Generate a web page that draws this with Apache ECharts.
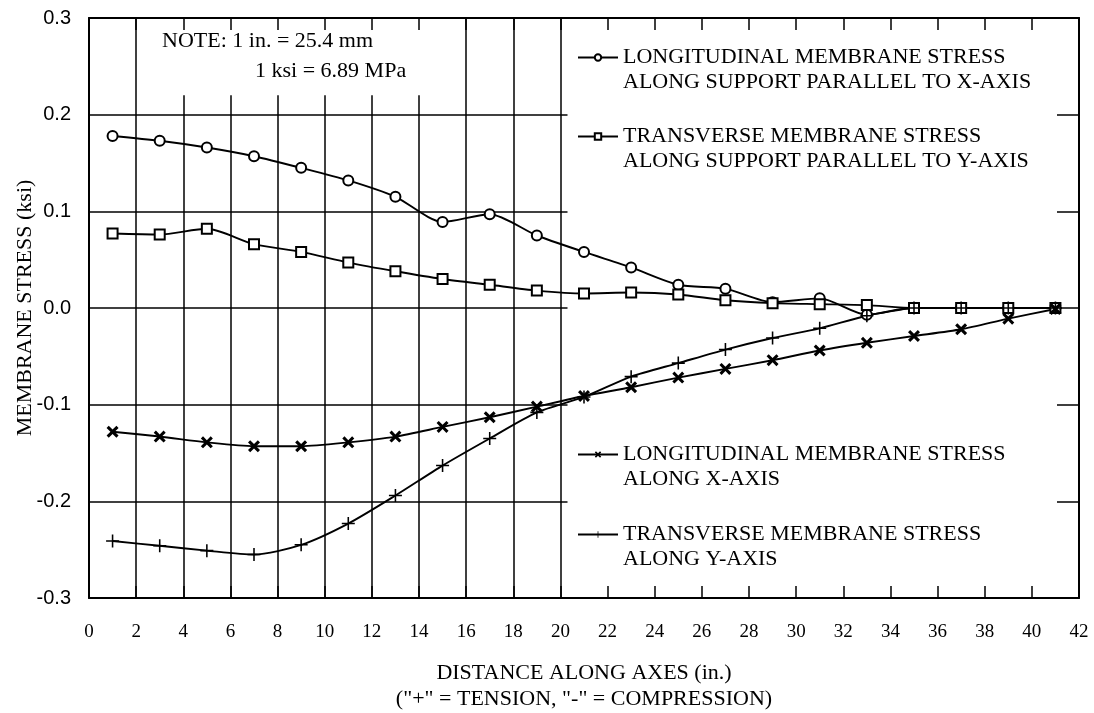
<!DOCTYPE html>
<html>
<head>
<meta charset="utf-8">
<script src="https://cdn.jsdelivr.net/npm/echarts@6/dist/echarts.min.js"></script>
<style>
html,body{margin:0;padding:0;background:#fff;}
#chart{width:1094px;height:713px;}
</style>
</head>
<body>
<div id="chart"></div>
<script>
// ---- data ----
var distances = [1,3,5,7,9,11,13,15,17,19,21,23,25,27,29,31,33,35,37,39,41];
var longSupportX = [0.178,0.173,0.166,0.157,0.145,0.132,0.115,0.089,0.097,0.075,0.058,0.042,0.024,0.020,0.006,0.010,-0.007,0,0,0,0];
var transSupportY = [0.077,0.076,0.082,0.066,0.058,0.047,0.038,0.030,0.024,0.018,0.015,0.016,0.014,0.008,0.005,0.004,0.003,0,0,0,0];
var longAlongX = [-0.128,-0.133,-0.139,-0.143,-0.143,-0.139,-0.133,-0.123,-0.113,-0.102,-0.091,-0.082,-0.072,-0.063,-0.054,-0.044,-0.036,-0.029,-0.022,-0.011,-0.001];
var transAlongY = [-0.241,-0.246,-0.251,-0.255,-0.245,-0.223,-0.194,-0.163,-0.135,-0.108,-0.092,-0.071,-0.057,-0.043,-0.031,-0.021,-0.008,0,0,0,0];

var seriesNames = [
  'LONGITUDINAL MEMBRANE STRESS\nALONG SUPPORT PARALLEL TO X-AXIS',
  'TRANSVERSE MEMBRANE STRESS\nALONG SUPPORT PARALLEL TO Y-AXIS',
  'LONGITUDINAL MEMBRANE STRESS\nALONG X-AXIS',
  'TRANSVERSE MEMBRANE STRESS\nALONG Y-AXIS'
];
var fullGridX = [2,16,18,20];
var partialGridX = [4,6,8,10,12,14];
var gridY = [-0.2,-0.1,0,0.1,0.2];
var noteLines = ['NOTE: 1 in. = 25.4 mm', '1 ksi = 6.89 MPa'];
var xAxisTitle = 'DISTANCE ALONG AXES (in.)\n("+" = TENSION, "-" = COMPRESSION)';
var yAxisTitle = 'MEMBRANE STRESS (ksi)';

// ---- chart ----
var SERIF = '"Liberation Serif", "Times New Roman", serif';
var SANS = '"Liberation Sans", Arial, sans-serif';
var X_PATH = 'path://M0,1.8L1.8,0L5,3.2L8.2,0L10,1.8L6.8,5L10,8.2L8.2,10L5,6.8L1.8,10L0,8.2L3.2,5Z';
var PLUS_PATH = 'path://M4.4,0H5.6V4.4H10V5.6H5.6V10H4.4V5.6H0V4.4H4.4Z';

function pairs(arr) { return distances.map(function (d, i) { return [d, arr[i]]; }); }

var gridLines = [];
fullGridX.forEach(function (x) { gridLines.push([{coord:[x,-0.3]},{coord:[x,0.3]}]); });
partialGridX.forEach(function (x) { gridLines.push([{coord:[x,-0.3]},{coord:[x,0.22]}]); });
gridY.forEach(function (y) { gridLines.push([{coord:[0,y]},{coord:[20.3,y]}]); });

function lineSeries(name, data, symbol, size, empty) {
  return {
    name: name, type: 'line', data: pairs(data), smooth: 0.25,
    symbol: symbol, symbolSize: size, showAllSymbol: true,
    lineStyle: {color:'#000', width: 1.9},
    itemStyle: empty ? {color:'#000', borderColor:'#000', borderWidth:1.5} : {color:'#000', borderWidth:0},
    z: 5
  };
}

var legendTops = [20, 99, 417, 497];
var legends = seriesNames.map(function (n, i) {
  return {
    data: [n], left: 577, top: legendTops[i], orient: 'vertical', padding: 0,
    itemWidth: 40, itemHeight: 8, itemGap: 5, selectedMode: false,
    formatter: function (name) { return '\n' + name; },
    textStyle: {fontFamily: SERIF, fontSize: 22, color:'#000', lineHeight: 25}
  };
});

var chart = echarts.init(document.getElementById('chart'), null, {renderer:'canvas'});
chart.setOption({
  backgroundColor: '#fff',
  animation: false,
  grid: {left: 89, right: 15, top: 18, bottom: 115, containLabel: false, outerBoundsMode: 'none'},
  legend: legends,
  xAxis: [{
    type: 'value', min: 0, max: 42, interval: 2, position: 'bottom',
    axisLine: {onZero: false, lineStyle: {color:'#000', width: 2}},
    axisTick: {inside: true, length: 12, lineStyle: {color:'#000', width: 1.5}},
    axisLabel: {fontFamily: SERIF, fontSize: 19, color:'#000', margin: 25},
    splitLine: {show: false},
    name: xAxisTitle, nameLocation: 'middle', nameGap: 62, nameMoveOverlap: false,
    nameTextStyle: {fontFamily: SERIF, fontSize: 22, color:'#000', lineHeight: 26}
  }, {
    type: 'value', min: 0, max: 42, interval: 2, position: 'top',
    axisLine: {onZero: false, lineStyle: {color:'#000', width: 2}},
    axisTick: {inside: true, length: 12, lineStyle: {color:'#000', width: 1.5}},
    axisLabel: {show: false}, splitLine: {show: false}
  }],
  yAxis: [{
    type: 'value', min: -0.3, max: 0.3, interval: 0.1, position: 'left',
    axisLine: {onZero: false, lineStyle: {color:'#000', width: 2}},
    axisTick: {show: false},
    axisLabel: {fontFamily: SANS, fontSize: 20, color:'#000', margin: 18,
      formatter: function (v) { return v.toFixed(1); }},
    splitLine: {show: false},
    name: yAxisTitle, nameLocation: 'middle', nameGap: 53, nameRotate: 90, nameMoveOverlap: false,
    nameTextStyle: {fontFamily: SERIF, fontSize: 22, color:'#000'}
  }, {
    type: 'value', min: -0.3, max: 0.3, interval: 0.1, position: 'right',
    axisLine: {onZero: false, lineStyle: {color:'#000', width: 2}},
    axisTick: {inside: true, length: 22, lineStyle: {color:'#000', width: 1.5}},
    axisLabel: {show: false}, splitLine: {show: false}
  }],
  graphic: [
    {type:'text', left: 162, top: 30, style: {text: noteLines[0], font: '22px ' + SERIF, fill:'#000'}},
    {type:'text', left: 255, top: 60, style: {text: noteLines[1], font: '22px ' + SERIF, fill:'#000'}}
  ],
  series: [
    {
      name: '_grid', type: 'line', data: [], silent: true, z: 1,
      markLine: {
        silent: true, symbol: ['none','none'], animation: false,
        label: {show: false},
        lineStyle: {color:'#000', width: 1.5, type: 'solid'},
        data: gridLines
      }
    },
    lineSeries(seriesNames[0], longSupportX, 'emptyCircle', 10, true),
    lineSeries(seriesNames[1], transSupportY, 'emptyRect', 10, true),
    lineSeries(seriesNames[2], longAlongX, X_PATH, 12, false),
    lineSeries(seriesNames[3], transAlongY, PLUS_PATH, 13, false)
  ]
});
</script>
</body>
</html>
